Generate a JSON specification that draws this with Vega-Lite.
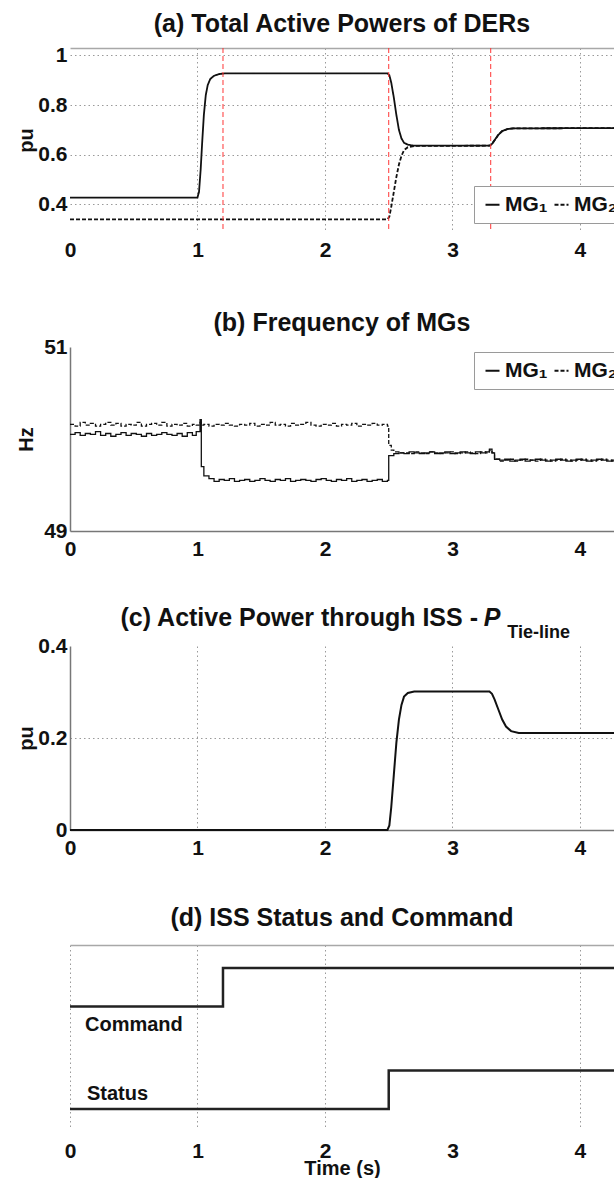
{
  "$schema": "https://vega.github.io/schema/vega-lite/v6.json",
  "background": "white",
  "padding": {"left": 16, "top": 12, "right": 0, "bottom": 0},
  "bounds": "flush",
  "spacing": 115,
  "config": {
    "font": "Liberation Sans",
    "view": {"stroke": null},
    "title": {"fontSize": 25, "fontWeight": "bold", "color": "#111111", "frame": "group"},
    "axis": {
      "labelFont": "Liberation Sans", "labelFontSize": 21, "labelFontWeight": "bold", "labelColor": "#111111",
      "titleFont": "Liberation Sans", "titleFontSize": 20, "titleFontWeight": "bold", "titleColor": "#111111",
      "ticks": false, "domain": false, "grid": false, "labelOverlap": false,
      "gridColor": "#9a9a9a", "gridDash": [1.5, 3], "gridWidth": 1,
      "domainColor": "#777777", "domainWidth": 1.5
    },
    "axisX": {"labelPadding": 7, "labelFlush": false, "labelAngle": 0},
    "axisY": {"labelPadding": 3, "titleX": -44, "titleY": 92, "titleAngle": -90, "titleBaseline": "middle", "titleAlign": "center"},
    "legend": {
      "orient": "none", "direction": "horizontal", "fillColor": "white", "strokeColor": "#9a9a9a",
      "padding": 8, "symbolType": "stroke", "symbolSize": 196, "symbolStrokeWidth": 2, "symbolStrokeColor": "#111111",
      "labelFont": "Liberation Sans", "labelFontSize": 21, "labelFontWeight": "bold", "labelColor": "#111111",
      "labelOffset": 2, "columnPadding": 2
    }
  },
  "resolve": {"scale": {"strokeDash": "independent"}, "legend": {"strokeDash": "independent"}},
  "datasets": {
    "events": [{"t": 1.2}, {"t": 2.5}, {"t": 3.3}],
    "powers": [
      {"t": 0, "p": 0.427, "mg": "MG₁"}, {"t": 1.0, "p": 0.427, "mg": "MG₁"}, {"t": 1.012, "p": 0.45, "mg": "MG₁"},
      {"t": 1.025, "p": 0.54, "mg": "MG₁"}, {"t": 1.038, "p": 0.66, "mg": "MG₁"}, {"t": 1.05, "p": 0.76, "mg": "MG₁"},
      {"t": 1.065, "p": 0.84, "mg": "MG₁"}, {"t": 1.08, "p": 0.88, "mg": "MG₁"}, {"t": 1.1, "p": 0.905, "mg": "MG₁"},
      {"t": 1.13, "p": 0.918, "mg": "MG₁"}, {"t": 1.17, "p": 0.925, "mg": "MG₁"}, {"t": 1.22, "p": 0.928, "mg": "MG₁"},
      {"t": 2.49, "p": 0.928, "mg": "MG₁"}, {"t": 2.505, "p": 0.92, "mg": "MG₁"}, {"t": 2.52, "p": 0.89, "mg": "MG₁"},
      {"t": 2.54, "p": 0.83, "mg": "MG₁"}, {"t": 2.56, "p": 0.76, "mg": "MG₁"}, {"t": 2.58, "p": 0.7, "mg": "MG₁"},
      {"t": 2.6, "p": 0.665, "mg": "MG₁"}, {"t": 2.62, "p": 0.648, "mg": "MG₁"}, {"t": 2.65, "p": 0.64, "mg": "MG₁"},
      {"t": 2.7, "p": 0.636, "mg": "MG₁"}, {"t": 3.29, "p": 0.636, "mg": "MG₁"}, {"t": 3.31, "p": 0.643, "mg": "MG₁"},
      {"t": 3.33, "p": 0.658, "mg": "MG₁"}, {"t": 3.36, "p": 0.68, "mg": "MG₁"}, {"t": 3.39, "p": 0.695, "mg": "MG₁"},
      {"t": 3.43, "p": 0.703, "mg": "MG₁"}, {"t": 3.48, "p": 0.706, "mg": "MG₁"}, {"t": 4.267, "p": 0.707, "mg": "MG₁"},
      {"t": 0, "p": 0.339, "mg": "MG₂"}, {"t": 2.49, "p": 0.339, "mg": "MG₂"}, {"t": 2.505, "p": 0.35, "mg": "MG₂"},
      {"t": 2.52, "p": 0.39, "mg": "MG₂"}, {"t": 2.54, "p": 0.45, "mg": "MG₂"}, {"t": 2.56, "p": 0.51, "mg": "MG₂"},
      {"t": 2.58, "p": 0.56, "mg": "MG₂"}, {"t": 2.6, "p": 0.595, "mg": "MG₂"}, {"t": 2.62, "p": 0.618, "mg": "MG₂"},
      {"t": 2.65, "p": 0.63, "mg": "MG₂"}, {"t": 2.7, "p": 0.635, "mg": "MG₂"}, {"t": 3.29, "p": 0.636, "mg": "MG₂"},
      {"t": 3.31, "p": 0.643, "mg": "MG₂"}, {"t": 3.33, "p": 0.658, "mg": "MG₂"}, {"t": 3.36, "p": 0.68, "mg": "MG₂"},
      {"t": 3.39, "p": 0.695, "mg": "MG₂"}, {"t": 3.43, "p": 0.703, "mg": "MG₂"}, {"t": 3.48, "p": 0.706, "mg": "MG₂"},
      {"t": 4.267, "p": 0.707, "mg": "MG₂"}
    ],
    "freq": [
      {"t": 0, "f": 50.05, "mg": "MG₁"}, {"t": 0.04, "f": 50.07, "mg": "MG₁"}, {"t": 0.08, "f": 50.04, "mg": "MG₁"},
      {"t": 0.12, "f": 50.06, "mg": "MG₁"}, {"t": 0.16, "f": 50.05, "mg": "MG₁"}, {"t": 0.2, "f": 50.08, "mg": "MG₁"},
      {"t": 0.24, "f": 50.04, "mg": "MG₁"}, {"t": 0.28, "f": 50.06, "mg": "MG₁"}, {"t": 0.32, "f": 50.03, "mg": "MG₁"},
      {"t": 0.36, "f": 50.05, "mg": "MG₁"}, {"t": 0.4, "f": 50.07, "mg": "MG₁"}, {"t": 0.44, "f": 50.04, "mg": "MG₁"},
      {"t": 0.48, "f": 50.06, "mg": "MG₁"}, {"t": 0.52, "f": 50.05, "mg": "MG₁"}, {"t": 0.56, "f": 50.03, "mg": "MG₁"},
      {"t": 0.6, "f": 50.06, "mg": "MG₁"}, {"t": 0.64, "f": 50.04, "mg": "MG₁"}, {"t": 0.68, "f": 50.05, "mg": "MG₁"},
      {"t": 0.72, "f": 50.07, "mg": "MG₁"}, {"t": 0.76, "f": 50.05, "mg": "MG₁"}, {"t": 0.8, "f": 50.04, "mg": "MG₁"},
      {"t": 0.84, "f": 50.06, "mg": "MG₁"}, {"t": 0.88, "f": 50.03, "mg": "MG₁"}, {"t": 0.92, "f": 50.07, "mg": "MG₁"},
      {"t": 0.96, "f": 50.04, "mg": "MG₁"}, {"t": 0.99, "f": 50.08, "mg": "MG₁"}, {"t": 1.02, "f": 50.21, "mg": "MG₁"},
      {"t": 1.03, "f": 49.7, "mg": "MG₁"}, {"t": 1.05, "f": 49.6, "mg": "MG₁"}, {"t": 1.09, "f": 49.57, "mg": "MG₁"},
      {"t": 1.13, "f": 49.54, "mg": "MG₁"}, {"t": 1.17, "f": 49.56, "mg": "MG₁"}, {"t": 1.21, "f": 49.55, "mg": "MG₁"},
      {"t": 1.25, "f": 49.57, "mg": "MG₁"}, {"t": 1.29, "f": 49.54, "mg": "MG₁"}, {"t": 1.33, "f": 49.55, "mg": "MG₁"},
      {"t": 1.37, "f": 49.56, "mg": "MG₁"}, {"t": 1.41, "f": 49.54, "mg": "MG₁"}, {"t": 1.45, "f": 49.55, "mg": "MG₁"},
      {"t": 1.49, "f": 49.57, "mg": "MG₁"}, {"t": 1.53, "f": 49.55, "mg": "MG₁"}, {"t": 1.57, "f": 49.54, "mg": "MG₁"},
      {"t": 1.61, "f": 49.56, "mg": "MG₁"}, {"t": 1.65, "f": 49.55, "mg": "MG₁"}, {"t": 1.69, "f": 49.57, "mg": "MG₁"},
      {"t": 1.73, "f": 49.54, "mg": "MG₁"}, {"t": 1.77, "f": 49.55, "mg": "MG₁"}, {"t": 1.81, "f": 49.56, "mg": "MG₁"},
      {"t": 1.85, "f": 49.55, "mg": "MG₁"}, {"t": 1.89, "f": 49.54, "mg": "MG₁"}, {"t": 1.93, "f": 49.56, "mg": "MG₁"},
      {"t": 1.97, "f": 49.57, "mg": "MG₁"}, {"t": 2.01, "f": 49.55, "mg": "MG₁"}, {"t": 2.05, "f": 49.54, "mg": "MG₁"},
      {"t": 2.09, "f": 49.56, "mg": "MG₁"}, {"t": 2.13, "f": 49.55, "mg": "MG₁"}, {"t": 2.17, "f": 49.57, "mg": "MG₁"},
      {"t": 2.21, "f": 49.54, "mg": "MG₁"}, {"t": 2.25, "f": 49.55, "mg": "MG₁"}, {"t": 2.29, "f": 49.56, "mg": "MG₁"},
      {"t": 2.33, "f": 49.54, "mg": "MG₁"}, {"t": 2.37, "f": 49.55, "mg": "MG₁"}, {"t": 2.41, "f": 49.56, "mg": "MG₁"},
      {"t": 2.45, "f": 49.54, "mg": "MG₁"}, {"t": 2.49, "f": 49.55, "mg": "MG₁"}, {"t": 2.5, "f": 49.82, "mg": "MG₁"},
      {"t": 2.54, "f": 49.84, "mg": "MG₁"}, {"t": 2.58, "f": 49.85, "mg": "MG₁"}, {"t": 2.62, "f": 49.84, "mg": "MG₁"},
      {"t": 2.66, "f": 49.86, "mg": "MG₁"}, {"t": 2.7, "f": 49.85, "mg": "MG₁"}, {"t": 2.74, "f": 49.84, "mg": "MG₁"},
      {"t": 2.78, "f": 49.85, "mg": "MG₁"}, {"t": 2.82, "f": 49.86, "mg": "MG₁"}, {"t": 2.86, "f": 49.84, "mg": "MG₁"},
      {"t": 2.9, "f": 49.85, "mg": "MG₁"}, {"t": 2.94, "f": 49.86, "mg": "MG₁"}, {"t": 2.98, "f": 49.84, "mg": "MG₁"},
      {"t": 3.02, "f": 49.85, "mg": "MG₁"}, {"t": 3.06, "f": 49.86, "mg": "MG₁"}, {"t": 3.1, "f": 49.85, "mg": "MG₁"},
      {"t": 3.14, "f": 49.84, "mg": "MG₁"}, {"t": 3.18, "f": 49.86, "mg": "MG₁"}, {"t": 3.22, "f": 49.85, "mg": "MG₁"},
      {"t": 3.26, "f": 49.86, "mg": "MG₁"}, {"t": 3.29, "f": 49.89, "mg": "MG₁"}, {"t": 3.31, "f": 49.85, "mg": "MG₁"},
      {"t": 3.33, "f": 49.78, "mg": "MG₁"}, {"t": 3.37, "f": 49.77, "mg": "MG₁"}, {"t": 3.41, "f": 49.78, "mg": "MG₁"},
      {"t": 3.45, "f": 49.76, "mg": "MG₁"}, {"t": 3.49, "f": 49.77, "mg": "MG₁"}, {"t": 3.53, "f": 49.78, "mg": "MG₁"},
      {"t": 3.57, "f": 49.76, "mg": "MG₁"}, {"t": 3.61, "f": 49.77, "mg": "MG₁"}, {"t": 3.65, "f": 49.78, "mg": "MG₁"},
      {"t": 3.69, "f": 49.77, "mg": "MG₁"}, {"t": 3.73, "f": 49.76, "mg": "MG₁"}, {"t": 3.77, "f": 49.77, "mg": "MG₁"},
      {"t": 3.81, "f": 49.78, "mg": "MG₁"}, {"t": 3.85, "f": 49.77, "mg": "MG₁"}, {"t": 3.89, "f": 49.76, "mg": "MG₁"},
      {"t": 3.93, "f": 49.77, "mg": "MG₁"}, {"t": 3.97, "f": 49.78, "mg": "MG₁"}, {"t": 4.01, "f": 49.77, "mg": "MG₁"},
      {"t": 4.05, "f": 49.76, "mg": "MG₁"}, {"t": 4.09, "f": 49.77, "mg": "MG₁"}, {"t": 4.13, "f": 49.78, "mg": "MG₁"},
      {"t": 4.17, "f": 49.77, "mg": "MG₁"}, {"t": 4.21, "f": 49.76, "mg": "MG₁"}, {"t": 4.25, "f": 49.77, "mg": "MG₁"},
      {"t": 4.267, "f": 49.77, "mg": "MG₁"},
      {"t": 0, "f": 50.16, "mg": "MG₂"}, {"t": 0.04, "f": 50.14, "mg": "MG₂"}, {"t": 0.08, "f": 50.18, "mg": "MG₂"},
      {"t": 0.12, "f": 50.15, "mg": "MG₂"}, {"t": 0.16, "f": 50.17, "mg": "MG₂"}, {"t": 0.2, "f": 50.14, "mg": "MG₂"},
      {"t": 0.24, "f": 50.16, "mg": "MG₂"}, {"t": 0.28, "f": 50.18, "mg": "MG₂"}, {"t": 0.32, "f": 50.15, "mg": "MG₂"},
      {"t": 0.36, "f": 50.17, "mg": "MG₂"}, {"t": 0.4, "f": 50.14, "mg": "MG₂"}, {"t": 0.44, "f": 50.16, "mg": "MG₂"},
      {"t": 0.48, "f": 50.15, "mg": "MG₂"}, {"t": 0.52, "f": 50.18, "mg": "MG₂"}, {"t": 0.56, "f": 50.14, "mg": "MG₂"},
      {"t": 0.6, "f": 50.16, "mg": "MG₂"}, {"t": 0.64, "f": 50.17, "mg": "MG₂"}, {"t": 0.68, "f": 50.15, "mg": "MG₂"},
      {"t": 0.72, "f": 50.18, "mg": "MG₂"}, {"t": 0.76, "f": 50.14, "mg": "MG₂"}, {"t": 0.8, "f": 50.16, "mg": "MG₂"},
      {"t": 0.84, "f": 50.15, "mg": "MG₂"}, {"t": 0.88, "f": 50.17, "mg": "MG₂"}, {"t": 0.92, "f": 50.14, "mg": "MG₂"},
      {"t": 0.96, "f": 50.16, "mg": "MG₂"}, {"t": 0.99, "f": 50.15, "mg": "MG₂"}, {"t": 1.02, "f": 50.18, "mg": "MG₂"},
      {"t": 1.03, "f": 50.15, "mg": "MG₂"}, {"t": 1.05, "f": 50.16, "mg": "MG₂"}, {"t": 1.09, "f": 50.14, "mg": "MG₂"},
      {"t": 1.13, "f": 50.16, "mg": "MG₂"}, {"t": 1.17, "f": 50.15, "mg": "MG₂"}, {"t": 1.21, "f": 50.17, "mg": "MG₂"},
      {"t": 1.25, "f": 50.15, "mg": "MG₂"}, {"t": 1.29, "f": 50.14, "mg": "MG₂"}, {"t": 1.33, "f": 50.16, "mg": "MG₂"},
      {"t": 1.37, "f": 50.15, "mg": "MG₂"}, {"t": 1.41, "f": 50.17, "mg": "MG₂"}, {"t": 1.45, "f": 50.14, "mg": "MG₂"},
      {"t": 1.49, "f": 50.16, "mg": "MG₂"}, {"t": 1.53, "f": 50.15, "mg": "MG₂"}, {"t": 1.57, "f": 50.18, "mg": "MG₂"},
      {"t": 1.61, "f": 50.15, "mg": "MG₂"}, {"t": 1.65, "f": 50.16, "mg": "MG₂"}, {"t": 1.69, "f": 50.14, "mg": "MG₂"},
      {"t": 1.73, "f": 50.17, "mg": "MG₂"}, {"t": 1.77, "f": 50.15, "mg": "MG₂"}, {"t": 1.81, "f": 50.16, "mg": "MG₂"},
      {"t": 1.85, "f": 50.18, "mg": "MG₂"}, {"t": 1.89, "f": 50.15, "mg": "MG₂"}, {"t": 1.93, "f": 50.14, "mg": "MG₂"},
      {"t": 1.97, "f": 50.16, "mg": "MG₂"}, {"t": 2.01, "f": 50.15, "mg": "MG₂"}, {"t": 2.05, "f": 50.17, "mg": "MG₂"},
      {"t": 2.09, "f": 50.14, "mg": "MG₂"}, {"t": 2.13, "f": 50.16, "mg": "MG₂"}, {"t": 2.17, "f": 50.15, "mg": "MG₂"},
      {"t": 2.21, "f": 50.17, "mg": "MG₂"}, {"t": 2.25, "f": 50.14, "mg": "MG₂"}, {"t": 2.29, "f": 50.16, "mg": "MG₂"},
      {"t": 2.33, "f": 50.15, "mg": "MG₂"}, {"t": 2.37, "f": 50.17, "mg": "MG₂"}, {"t": 2.41, "f": 50.15, "mg": "MG₂"},
      {"t": 2.45, "f": 50.16, "mg": "MG₂"}, {"t": 2.49, "f": 50.14, "mg": "MG₂"}, {"t": 2.5, "f": 49.93, "mg": "MG₂"},
      {"t": 2.52, "f": 49.88, "mg": "MG₂"}, {"t": 2.54, "f": 49.86, "mg": "MG₂"}, {"t": 2.58, "f": 49.85, "mg": "MG₂"},
      {"t": 2.62, "f": 49.85, "mg": "MG₂"}, {"t": 2.66, "f": 49.84, "mg": "MG₂"}, {"t": 2.7, "f": 49.86, "mg": "MG₂"},
      {"t": 2.74, "f": 49.85, "mg": "MG₂"}, {"t": 2.78, "f": 49.84, "mg": "MG₂"}, {"t": 2.82, "f": 49.86, "mg": "MG₂"},
      {"t": 2.86, "f": 49.85, "mg": "MG₂"}, {"t": 2.9, "f": 49.84, "mg": "MG₂"}, {"t": 2.94, "f": 49.85, "mg": "MG₂"},
      {"t": 2.98, "f": 49.86, "mg": "MG₂"}, {"t": 3.02, "f": 49.84, "mg": "MG₂"}, {"t": 3.06, "f": 49.85, "mg": "MG₂"},
      {"t": 3.1, "f": 49.86, "mg": "MG₂"}, {"t": 3.14, "f": 49.85, "mg": "MG₂"}, {"t": 3.18, "f": 49.84, "mg": "MG₂"},
      {"t": 3.22, "f": 49.86, "mg": "MG₂"}, {"t": 3.26, "f": 49.85, "mg": "MG₂"}, {"t": 3.29, "f": 49.88, "mg": "MG₂"},
      {"t": 3.31, "f": 49.85, "mg": "MG₂"}, {"t": 3.33, "f": 49.78, "mg": "MG₂"}, {"t": 3.37, "f": 49.76, "mg": "MG₂"},
      {"t": 3.41, "f": 49.77, "mg": "MG₂"}, {"t": 3.45, "f": 49.78, "mg": "MG₂"}, {"t": 3.49, "f": 49.76, "mg": "MG₂"},
      {"t": 3.53, "f": 49.77, "mg": "MG₂"}, {"t": 3.57, "f": 49.78, "mg": "MG₂"}, {"t": 3.61, "f": 49.77, "mg": "MG₂"},
      {"t": 3.65, "f": 49.76, "mg": "MG₂"}, {"t": 3.69, "f": 49.78, "mg": "MG₂"}, {"t": 3.73, "f": 49.77, "mg": "MG₂"},
      {"t": 3.77, "f": 49.76, "mg": "MG₂"}, {"t": 3.81, "f": 49.77, "mg": "MG₂"}, {"t": 3.85, "f": 49.78, "mg": "MG₂"},
      {"t": 3.89, "f": 49.77, "mg": "MG₂"}, {"t": 3.93, "f": 49.76, "mg": "MG₂"}, {"t": 3.97, "f": 49.77, "mg": "MG₂"},
      {"t": 4.01, "f": 49.78, "mg": "MG₂"}, {"t": 4.05, "f": 49.77, "mg": "MG₂"}, {"t": 4.09, "f": 49.76, "mg": "MG₂"},
      {"t": 4.13, "f": 49.77, "mg": "MG₂"}, {"t": 4.17, "f": 49.78, "mg": "MG₂"}, {"t": 4.21, "f": 49.77, "mg": "MG₂"},
      {"t": 4.25, "f": 49.76, "mg": "MG₂"}, {"t": 4.267, "f": 49.76, "mg": "MG₂"}
    ],
    "tieline": [
      {"t": 0, "p": 0}, {"t": 2.49, "p": 0}, {"t": 2.505, "p": 0.01}, {"t": 2.52, "p": 0.05},
      {"t": 2.54, "p": 0.12}, {"t": 2.56, "p": 0.19}, {"t": 2.58, "p": 0.24}, {"t": 2.6, "p": 0.272},
      {"t": 2.62, "p": 0.29}, {"t": 2.65, "p": 0.298}, {"t": 2.7, "p": 0.301}, {"t": 3.29, "p": 0.301},
      {"t": 3.31, "p": 0.296}, {"t": 3.33, "p": 0.284}, {"t": 3.36, "p": 0.262}, {"t": 3.39, "p": 0.24},
      {"t": 3.42, "p": 0.225}, {"t": 3.46, "p": 0.215}, {"t": 3.52, "p": 0.211}, {"t": 4.267, "p": 0.211}
    ],
    "iss": [
      {"signal": "Command", "t": 0, "state": 0}, {"signal": "Command", "t": 1.2, "state": 1}, {"signal": "Command", "t": 4.267, "state": 1},
      {"signal": "Status", "t": 0, "state": 0}, {"signal": "Status", "t": 2.5, "state": 1}, {"signal": "Status", "t": 4.267, "state": 1}
    ]
  },
  "vconcat": [
    {
      "width": 544,
      "height": 184,
      "title": {"text": "(a) Total Active Powers of DERs", "offset": 7},
      "layer": [
        {
          "data": {"name": "powers"},
          "mark": {"type": "line", "strokeWidth": 1.8, "color": "#111111"},
          "encoding": {
            "x": {"field": "t", "type": "quantitative", "scale": {"domain": [0, 4.267], "nice": false, "zero": false},
              "axis": {"orient": "bottom", "values": [0, 1, 2, 3, 4], "format": "d", "title": null, "grid": true,
                "gridOpacity": {"condition": {"test": "datum.value == 0", "value": 0}, "value": 1}}},
            "y": {"field": "p", "type": "quantitative", "scale": {"domain": [0.288, 1.03], "nice": false, "zero": false},
              "axis": {"values": [0.4, 0.6, 0.8, 1], "format": "~g", "title": "pu", "grid": true}},
            "strokeDash": {"field": "mg", "type": "nominal",
              "scale": {"domain": ["MG₁", "MG₂"], "range": [[1, 0], [4, 2]]},
              "legend": {"title": null, "legendX": 404, "legendY": 138}}
          }
        },
        {
          "data": {"name": "events"},
          "mark": {"type": "rule", "color": "#ff3535", "strokeDash": [5, 3], "strokeWidth": 1},
          "encoding": {
            "x": {"field": "t", "type": "quantitative",
              "axis": {"orient": "top", "labels": false, "ticks": false, "domain": true, "domainColor": "#a8a8a8", "domainWidth": 1.5, "grid": false, "title": null}}
          }
        }
      ]
    },
    {
      "width": 544,
      "height": 184,
      "title": {"text": "(b) Frequency of MGs", "offset": 0},
      "data": {"name": "freq"},
      "mark": {"type": "line", "interpolate": "step-after", "strokeWidth": 1.3, "color": "#111111"},
      "encoding": {
        "x": {"field": "t", "type": "quantitative", "scale": {"domain": [0, 4.267], "nice": false, "zero": false},
          "axis": {"orient": "bottom", "values": [0, 1, 2, 3, 4], "format": "d", "title": null, "domain": true}},
        "y": {"field": "f", "type": "quantitative", "scale": {"domain": [49, 51], "nice": false, "zero": false},
          "axis": {"values": [49, 50, 51], "format": "d", "title": "Hz", "domain": true, "grid": true,
            "gridOpacity": {"condition": {"test": "datum.value == 50", "value": 1}, "value": 0}}},
        "strokeDash": {"field": "mg", "type": "nominal",
          "scale": {"domain": ["MG₁", "MG₂"], "range": [[1, 0], [4, 2]]},
          "legend": {"title": null, "legendX": 404, "legendY": 5}}
      }
    },
    {
      "width": 544,
      "height": 184,
      "layer": [
        {
          "data": {"name": "tieline"},
          "mark": {"type": "line", "strokeWidth": 2, "color": "#111111"},
          "encoding": {
            "x": {"field": "t", "type": "quantitative", "scale": {"domain": [0, 4.267], "nice": false, "zero": false},
              "axis": {"orient": "bottom", "values": [0, 1, 2, 3, 4], "format": "d", "title": null, "domain": true, "grid": true,
                "gridOpacity": {"condition": {"test": "datum.value == 0", "value": 0}, "value": 1}}},
            "y": {"field": "p", "type": "quantitative", "scale": {"domain": [0, 0.4], "nice": false, "zero": false},
              "axis": {"orient": "left", "values": [0, 0.2, 0.4], "format": "~g", "title": "pu", "domain": true, "grid": true,
                "gridOpacity": {"condition": {"test": "datum.value == 0.2", "value": 1}, "value": 0}}}
          }
        },
        {
          "data": {"values": [{}]},
          "mark": {"type": "text", "text": "(c) Active Power through ISS -", "fontSize": 25, "fontWeight": "bold", "align": "right", "baseline": "middle", "color": "#111111"},
          "encoding": {
            "x": {"datum": 3.2, "type": "quantitative"},
            "y": {"datum": 0.461, "type": "quantitative"}
          }
        },
        {
          "data": {"values": [{}]},
          "mark": {"type": "text", "text": "P", "fontSize": 25, "fontWeight": "bold", "fontStyle": "italic", "align": "center", "baseline": "middle", "color": "#111111"},
          "encoding": {
            "x": {"datum": 3.31, "type": "quantitative"},
            "y": {"datum": 0.461, "type": "quantitative"}
          }
        },
        {
          "data": {"values": [{}]},
          "mark": {"type": "text", "text": "Tie-line", "fontSize": 18, "fontWeight": "bold", "align": "left", "baseline": "middle", "color": "#111111"},
          "encoding": {
            "x": {"datum": 3.43, "type": "quantitative"},
            "y": {"datum": 0.428, "type": "quantitative"}
          }
        }
      ]
    },
    {
      "width": 544,
      "height": 184,
      "title": {"text": "(d) ISS Status and Command", "offset": 14},
      "data": {"name": "iss"},
      "layer": [
        {
          "transform": [{"filter": "datum.signal == 'Command'"}],
          "layer": [
            {
              "mark": {"type": "line", "interpolate": "step-after", "strokeWidth": 2.5, "color": "#222222"},
              "encoding": {
                "x": {"field": "t", "type": "quantitative", "scale": {"domain": [0, 4.267], "nice": false, "zero": false},
                  "axis": {"orient": "bottom", "values": [0, 1, 2, 3, 4], "format": "d", "title": "Time (s)", "titlePadding": -3, "labelPadding": 11, "grid": true,
                    "gridOpacity": {"condition": {"test": "datum.value == 3", "value": 0}, "value": 1}}},
                "y": {"field": "state", "type": "quantitative", "scale": {"domain": [-3.19, 1.6], "nice": false, "zero": false}, "axis": null}
              }
            },
            {
              "transform": [{"filter": "datum.t == 0"}],
              "mark": {"type": "text", "align": "left", "baseline": "middle", "dx": 15, "dy": 19, "fontSize": 20, "fontWeight": "bold", "color": "#111111"},
              "encoding": {
                "x": {"field": "t", "type": "quantitative"},
                "y": {"field": "state", "type": "quantitative", "axis": null},
                "text": {"field": "signal"}
              }
            }
          ]
        },
        {
          "transform": [{"filter": "datum.signal == 'Status'"}],
          "layer": [
            {
              "mark": {"type": "line", "interpolate": "step-after", "strokeWidth": 2.5, "color": "#222222"},
              "encoding": {
                "x": {"field": "t", "type": "quantitative",
                  "axis": {"orient": "top", "labels": false, "ticks": false, "domain": true, "domainColor": "#a8a8a8", "domainWidth": 1.5, "grid": false, "title": null}},
                "y": {"field": "state", "type": "quantitative", "scale": {"domain": [-0.52, 4.26], "nice": false, "zero": false}, "axis": null}
              }
            },
            {
              "transform": [{"filter": "datum.t == 0"}],
              "mark": {"type": "text", "align": "left", "baseline": "middle", "dx": 17, "dy": -15, "fontSize": 20, "fontWeight": "bold", "color": "#111111"},
              "encoding": {
                "x": {"field": "t", "type": "quantitative"},
                "y": {"field": "state", "type": "quantitative", "axis": null},
                "text": {"field": "signal"}
              }
            }
          ]
        }
      ],
      "resolve": {"scale": {"y": "independent"}}
    }
  ]
}
